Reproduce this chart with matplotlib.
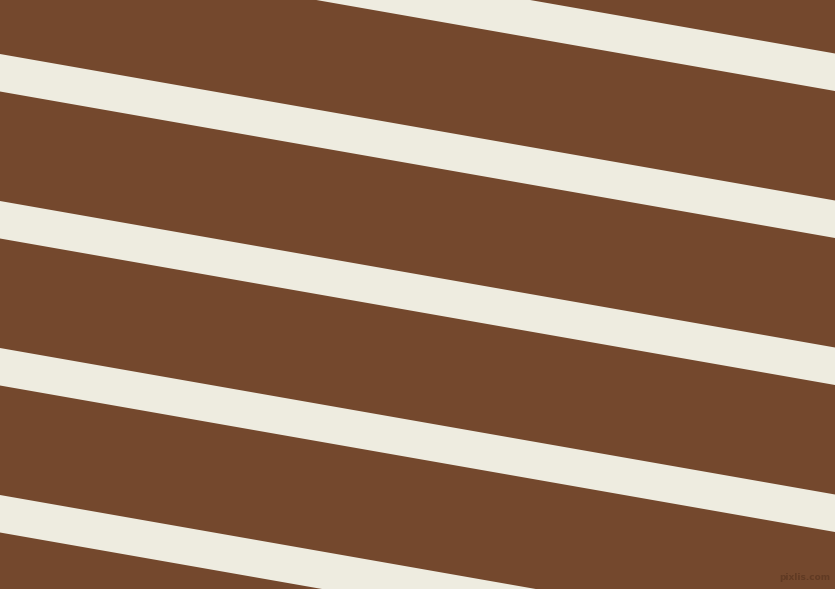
import numpy as np
import matplotlib.pyplot as plt

# Stripe pattern data (pixel units, y measured from the top)
width_px = 835
height_px = 589
stripe_left_tops = [-93, 54, 201, 348, 495, 642]
stripe_thickness = 37.5
stripe_drop = 146.5          # how far a stripe falls across the full width
background_color = "#74482D"
stripe_color = "#EEECE0"
watermark = "pixlis.com"

fig = plt.figure(figsize=(width_px / 100, height_px / 100), dpi=100)
ax = fig.add_axes([0, 0, 1, 1])
ax.set_xlim(0, width_px)
ax.set_ylim(height_px, 0)
ax.set_facecolor(background_color)
ax.axis("off")
fig.patch.set_facecolor(background_color)

xs = np.array([0, width_px])
for top in stripe_left_tops:
    upper = top + stripe_drop * xs / width_px
    lower = upper + stripe_thickness
    ax.fill_between(xs, upper, lower, color=stripe_color, linewidth=0)

# faint watermark in the corner
ax.text(830, 582, watermark, color="#603A23", fontsize=6.5,
        ha="right", va="bottom", fontweight="bold")

fig.savefig("out.png", dpi=100, facecolor=background_color)
plt.close(fig)
